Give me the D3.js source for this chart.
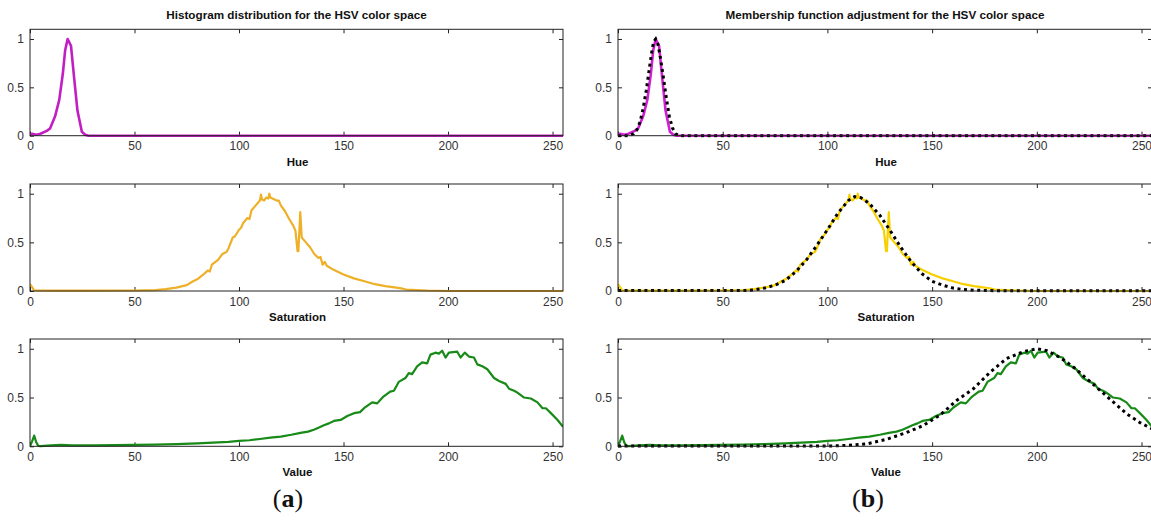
<!DOCTYPE html>
<html>
<head>
<meta charset="utf-8">
<script src="https://cdn.jsdelivr.net/npm/d3@7"></script>
<style>
  body { margin: 0; background: #fff; }
  svg { display: block; }
  .tick text { font-family: "Liberation Sans", Arial, sans-serif; font-size: 12px; fill: #333; }
  .title, .xlabel { font-family: "Liberation Sans", Arial, sans-serif; font-weight: bold; fill: #111; }
  .panel-tag { font-family: "Liberation Serif", "DejaVu Serif", serif; font-size: 26px; fill: #111; }
</style>
</head>
<body>
<div id="chart"></div>
<script>
// histogram of hue
let hueX = [0, 1, 3, 5, 8, 9.6, 12, 14, 15.7, 16.8, 18, 19.6, 21.1, 22.7, 24.8, 26.4, 28, 255];
let hueY = [0.01, 0.02, 0.01, 0.02, 0.05, 0.075, 0.2, 0.37, 0.64, 0.88, 1.0, 0.93, 0.6, 0.26, 0.04, 0.01, 0, 0];
// fitted membership function for hue
let hueFitX = [0, 5, 7.5, 9, 10.5, 12, 13.5, 15, 16, 17, 18, 19, 20, 21.5, 23, 24.5, 26, 27.5, 29.5, 255];
let hueFitY = [0, 0, 0.02, 0.06, 0.14, 0.28, 0.47, 0.7, 0.85, 0.97, 1.0, 0.95, 0.84, 0.63, 0.4, 0.2, 0.08, 0.02, 0, 0];

let satX = [0, 1, 2, 10, 30, 50, 60, 65, 70, 75, 78, 80, 83, 85, 86, 87, 90, 92, 94, 95, 97, 98, 100, 101, 102, 104, 105, 106, 108, 110, 110.5, 111, 112, 113, 114, 114.5, 115, 116, 118, 119, 120, 122, 124, 126, 127, 128, 128.4, 129.3, 130, 132, 134, 136, 137, 138, 139, 140, 141, 142, 145, 150, 155, 160, 165, 170, 177, 180, 190, 200, 255];
let satY = [0.07, 0.04, 0.005, 0.003, 0.003, 0.005, 0.01, 0.02, 0.035, 0.06, 0.1, 0.12, 0.17, 0.21, 0.2, 0.27, 0.32, 0.38, 0.4, 0.44, 0.55, 0.56, 0.63, 0.65, 0.7, 0.75, 0.74, 0.83, 0.88, 0.93, 0.99, 0.94, 0.93, 0.96, 0.95, 1.0, 0.96, 0.95, 0.93, 0.93, 0.88, 0.82, 0.74, 0.67, 0.62, 0.41, 0.41, 0.81, 0.55, 0.5, 0.45, 0.38, 0.36, 0.34, 0.35, 0.27, 0.3, 0.26, 0.22, 0.17, 0.13, 0.1, 0.07, 0.05, 0.03, 0.015, 0.005, 0, 0];
let satFitX = [0, 60, 63, 65, 70, 75, 80, 85, 90, 95, 100, 105, 110, 113, 116, 120, 125, 130, 135, 140, 145, 150, 155, 160, 165, 170, 180, 190, 255];
let satFitY = [0.005, 0.005, 0.007, 0.01, 0.03, 0.06, 0.11, 0.2, 0.32, 0.47, 0.63, 0.8, 0.93, 0.97, 0.96, 0.9, 0.78, 0.62, 0.45, 0.3, 0.18, 0.1, 0.06, 0.03, 0.015, 0.008, 0.003, 0.002, 0.002];

let valX = [0, 1, 2, 3, 4, 5, 10, 15, 20, 30, 40, 50, 60, 70, 80, 90, 95, 100, 105, 110, 115, 120, 125, 129.4, 133, 135.8, 138, 140.6, 143, 145.4, 148.6, 151.8, 155, 157.9, 160.3, 163.7, 166.1, 169.1, 172.3, 174.1, 176.4, 179.6, 181.2, 182.8, 185.2, 187.6, 190, 191.6, 194, 195.6, 197.2, 198.8, 200.4, 204.4, 206, 208, 210, 212.4, 214, 216.4, 218.8, 222, 224.4, 227.6, 229.2, 231.6, 233.2, 236.4, 239.6, 242.8, 245.2, 246.8, 249.2, 252.4, 255];
let valY = [0, 0.05, 0.11, 0.04, 0.005, 0.002, 0.01, 0.015, 0.01, 0.01, 0.012, 0.015, 0.017, 0.022, 0.03, 0.04, 0.045, 0.055, 0.062, 0.075, 0.088, 0.1, 0.118, 0.137, 0.15, 0.17, 0.19, 0.215, 0.235, 0.26, 0.27, 0.31, 0.34, 0.35, 0.4, 0.45, 0.44, 0.51, 0.56, 0.57, 0.66, 0.7, 0.75, 0.74, 0.82, 0.86, 0.85, 0.94, 0.96, 0.95, 0.98, 0.91, 0.96, 0.97, 0.91, 0.96, 0.92, 0.91, 0.84, 0.82, 0.79, 0.7, 0.67, 0.64, 0.59, 0.57, 0.55, 0.5, 0.49, 0.45, 0.39, 0.39, 0.34, 0.27, 0.2];
let valFitX = [0, 100, 105, 110, 118.6, 128, 137.6, 145.5, 153.8, 161.7, 169.7, 177.7, 185.6, 193.6, 200, 204.8, 211.2, 217.6, 224, 230.4, 236.7, 243.1, 249.5, 255];
let valFitY = [0.003, 0.003, 0.005, 0.01, 0.024, 0.07, 0.14, 0.21, 0.32, 0.47, 0.59, 0.76, 0.9, 0.97, 1.0, 0.98, 0.91, 0.81, 0.69, 0.57, 0.45, 0.33, 0.24, 0.18];

let xTicks = [0, 50, 100, 150, 200, 250];
let yTicks = [0, 0.5, 1];
let yTickLabels = ["0", "0.5", "1"];
let titles = ["Histogram distribution for the HSV color space", "Membership function adjustment for the HSV color space"];
let axisNames = ["Hue", "Saturation", "Value"];
let tags = ["a", "b"];

let width = 1151, height = 521;
let columns = [[30, 563], [618, 1152]];
let rows = [[135.7, 29.3], [291, 184], [446.3, 339]];

let svg = d3.select("#chart")
    .append("svg")
    .attr("width", width)
    .attr("height", height);

let series = [
    { x: hueX, y: hueY, fx: hueFitX, fy: hueFitY, colors: ["#c21ec4", "#d11fd3"], w: 2.6 },
    { x: satX, y: satY, fx: satFitX, fy: satFitY, colors: ["#eeb028", "#f7d000"], w: 2.2 },
    { x: valX, y: valY, fx: valFitX, fy: valFitY, colors: ["#178a17", "#178a17"], w: 2.2 }
];

function drawPanel(col, row) {
    let X = d3.scaleLinear().domain([0, 255]).range(columns[col]);
    let Y = d3.scaleLinear().domain([0, 1.1]).range(rows[row]);
    let s = series[row];
    let g = svg.append("g");

    let clipId = `clip-${col}-${row}`;
    g.append("clipPath").attr("id", clipId)
        .append("rect")
        .attr("x", X(0)).attr("y", Y(1.1))
        .attr("width", X(255) - X(0)).attr("height", Y(0) - Y(1.1) + 2);

    let line = (xs, ys) => d3.line()
        .x((d, i) => X(xs[i]))
        .y((d, i) => Y(ys[i]))(xs);

    // axes, ticks pointing inward
    g.append("g").attr("transform", `translate(0,${Y(0)})`)
        .call(d3.axisBottom(X).tickValues(xTicks).tickSizeInner(-4).tickSizeOuter(0).tickPadding(6))
        .call(a => a.select(".domain").remove());
    g.append("g").attr("transform", `translate(0,${Y(1.1)})`)
        .call(d3.axisTop(X).tickValues(xTicks).tickSizeInner(-4).tickSizeOuter(0).tickFormat(""))
        .call(a => a.select(".domain").remove());
    g.append("g").attr("transform", `translate(${X(0)},0)`)
        .call(d3.axisLeft(Y).tickValues(yTicks).tickSizeInner(-4).tickSizeOuter(0).tickPadding(6)
            .tickFormat((d, i) => yTickLabels[i]))
        .call(a => a.select(".domain").remove());
    g.append("g").attr("transform", `translate(${X(255)},0)`)
        .call(d3.axisRight(Y).tickValues(yTicks).tickSizeInner(-4).tickSizeOuter(0).tickFormat(""))
        .call(a => a.select(".domain").remove());
    g.selectAll(".tick line").attr("stroke", "#222");

    let lines = g.append("g").attr("clip-path", `url(#${clipId})`);
    lines.append("path")
        .attr("d", line(s.x, s.y))
        .attr("fill", "none")
        .attr("stroke", s.colors[col])
        .attr("stroke-width", s.w)
        .attr("stroke-linejoin", "round");

    if (col == 1) {
        lines.append("path")
            .attr("d", line(s.fx, s.fy))
            .attr("fill", "none")
            .attr("stroke", "#000")
            .attr("stroke-width", 3)
            .attr("stroke-dasharray", "3,3.6");
    }

    g.append("rect")
        .attr("x", X(0)).attr("y", Y(1.1))
        .attr("width", X(255) - X(0)).attr("height", Y(0) - Y(1.1))
        .attr("fill", "none")
        .attr("stroke", "#222")
        .attr("stroke-width", 1);

    g.append("text")
        .attr("class", "xlabel")
        .attr("x", (X(0) + X(255)) / 2 + 1)
        .attr("y", Y(0) + 30)
        .attr("text-anchor", "middle")
        .attr("font-size", 11.5)
        .text(axisNames[row]);
}

[0, 1].forEach(col => {
    [0, 1, 2].forEach(row => drawPanel(col, row));
    let mid = (columns[col][0] + columns[col][1]) / 2;
    svg.append("text")
        .attr("class", "title")
        .attr("x", mid)
        .attr("y", 19)
        .attr("text-anchor", "middle")
        .attr("font-size", 11.7)
        .text(titles[col]);
    let tag = svg.append("text")
        .attr("class", "panel-tag")
        .attr("x", col == 0 ? 288 : 868)
        .attr("y", 507)
        .attr("text-anchor", "middle");
    tag.append("tspan").text("(");
    tag.append("tspan").attr("font-weight", "bold").text(tags[col]);
    tag.append("tspan").text(")");
});
</script>
</body>
</html>
